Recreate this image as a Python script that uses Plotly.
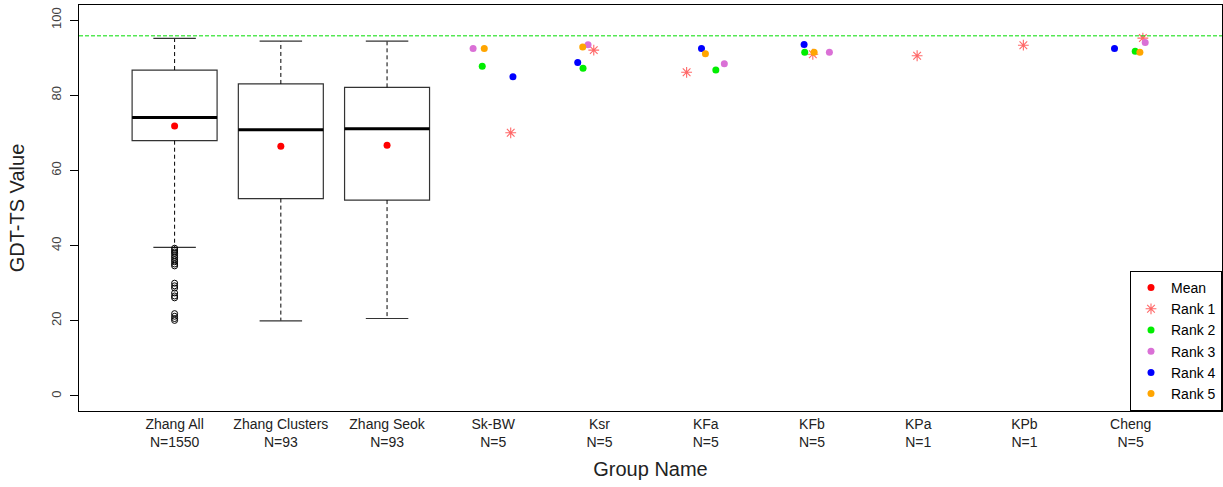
import plotly.graph_objects as go

# ---------------- data ----------------
groups = ["Zhang All", "Zhang Clusters", "Zhang Seok", "Sk-BW", "Ksr",
          "KFa", "KFb", "KPa", "KPb", "Cheng"]
group_n = [1550, 93, 93, 5, 5, 5, 5, 1, 1, 5]
positions = list(range(1, len(groups) + 1))

# box statistics for the three distributions
box_pos = [1, 2, 3]
box_q1 = [67.9, 52.5, 52.1]
box_median = [74.1, 70.8, 71.1]
box_q3 = [86.7, 83.0, 82.1]
box_low = [39.5, 20.0, 20.6]
box_high = [95.1, 94.4, 94.4]
box_mean = [71.8, 66.4, 66.7]

outliers_zhang_all = [39.3, 38.8, 38.3, 37.9, 37.3, 36.8, 36.2, 35.7, 35.1, 34.6,
                      30.0, 29.3, 28.7, 27.4, 26.6, 26.1, 21.9, 21.2, 20.6, 20.1]

reference_line = 95.8

# ranked models: x position (group index + jitter), value
rank1_x = [4.164, 4.946, 5.82, 7.008, 7.99, 8.99, 10.115]
rank1_y = [70.0, 92.0, 86.1, 90.9, 90.5, 93.3, 95.2]
rank2_x = [3.896, 4.845, 6.095, 6.932, 10.043]
rank2_y = [87.7, 87.2, 86.7, 91.4, 91.7]
rank3_x = [3.81, 4.892, 6.175, 7.164, 10.137]
rank3_y = [92.4, 93.4, 88.4, 91.4, 94.0]
rank4_x = [4.185, 4.795, 5.96, 6.926, 9.848]
rank4_y = [84.9, 88.7, 92.4, 93.5, 92.4]
rank5_x = [3.915, 4.842, 5.997, 7.02, 10.087]
rank5_y = [92.4, 92.8, 91.0, 91.4, 91.4]

tick_text = [f"{g}<br>N={n}" for g, n in zip(groups, group_n)]

# ---------------- figure ----------------
fig = go.Figure()
BOXW = 0.8
CAPW = 0.4

for i, p in enumerate(box_pos):
    # whiskers (dashed)
    fig.add_trace(go.Scatter(x=[p, p, None, p, p],
                             y=[box_q3[i], box_high[i], None, box_q1[i], box_low[i]],
                             mode="lines", line=dict(color="black", width=1, dash="4px,3px"),
                             showlegend=False, hoverinfo="skip"))
    # caps
    fig.add_trace(go.Scatter(x=[p - CAPW / 2, p + CAPW / 2, None, p - CAPW / 2, p + CAPW / 2],
                             y=[box_high[i], box_high[i], None, box_low[i], box_low[i]],
                             mode="lines", line=dict(color="#333", width=1.2),
                             showlegend=False, hoverinfo="skip"))
    # box body
    fig.add_trace(go.Box(x=[p], q1=[box_q1[i]], median=[box_median[i]], q3=[box_q3[i]],
                         lowerfence=[box_q1[i]], upperfence=[box_q3[i]],
                         width=BOXW, fillcolor="white", line=dict(color="#333", width=1.2),
                         boxpoints=False, showlegend=False, hoverinfo="skip"))
    # thick median
    fig.add_trace(go.Scatter(x=[p - BOXW / 2, p + BOXW / 2], y=[box_median[i]] * 2,
                             mode="lines", line=dict(color="black", width=3),
                             showlegend=False, hoverinfo="skip"))

fig.add_trace(go.Scatter(x=[1] * len(outliers_zhang_all), y=outliers_zhang_all, mode="markers",
                         marker=dict(symbol="circle-open", size=6, color="black",
                                     line=dict(width=1, color="black")),
                         showlegend=False))

STAR = "rgba(255,40,40,0.7)"
fig.add_trace(go.Scatter(x=box_pos, y=box_mean, mode="markers", name="Mean",
                         marker=dict(color="red", size=7)))
fig.add_trace(go.Scatter(x=rank1_x, y=rank1_y, mode="markers", name="Rank 1",
                         marker=dict(symbol="asterisk-open", size=9, color=STAR,
                                     line=dict(color=STAR, width=1.1))))
for nm, xs, ys, col in [("Rank 2", rank2_x, rank2_y, "#00ee00"),
                        ("Rank 3", rank3_x, rank3_y, "orchid"),
                        ("Rank 4", rank4_x, rank4_y, "#0000ff"),
                        ("Rank 5", rank5_x, rank5_y, "orange")]:
    fig.add_trace(go.Scatter(x=xs, y=ys, mode="markers", name=nm,
                             marker=dict(color=col, size=7)))

fig.add_shape(type="line", xref="paper", x0=0, x1=1, yref="y",
              y0=reference_line, y1=reference_line,
              line=dict(color="#00dd00", width=1, dash="4px,2px"))

fig.update_layout(
    width=1223, height=487,
    margin=dict(l=79, r=1, t=5, b=76),
    paper_bgcolor="white", plot_bgcolor="white",
    font=dict(family="Liberation Sans, Arial, sans-serif", color="#222"),
    xaxis=dict(range=[0.1, 10.86], tickvals=positions, ticktext=tick_text,
               showgrid=False, zeroline=False, showline=True, mirror=True,
               linecolor="black", linewidth=1, ticks="",
               tickfont=dict(size=14),
               title=dict(text="Group Name", font=dict(size=20), standoff=12)),
    yaxis=dict(range=[-4, 104], tickvals=[0, 20, 40, 60, 80, 100],
               showgrid=False, zeroline=False, showline=True, mirror=True,
               linecolor="black", linewidth=1, ticks="outside", ticklen=8,
               tickcolor="black", tickangle=-90, tickfont=dict(size=13, color="#444"),
               ticklabelstandoff=4,
               title=dict(text="GDT-TS Value", font=dict(size=20), standoff=18)),
    legend=dict(x=1, y=0, xanchor="right", yanchor="bottom",
                bgcolor="white", bordercolor="black", borderwidth=1,
                font=dict(size=14, color="black"), itemwidth=30,
                tracegroupgap=0),
    showlegend=True,
)

fig.write_html("out.html", config={"displayModeBar": False},
               post_script="document.body.style.margin='0';document.body.style.overflow='hidden';")
